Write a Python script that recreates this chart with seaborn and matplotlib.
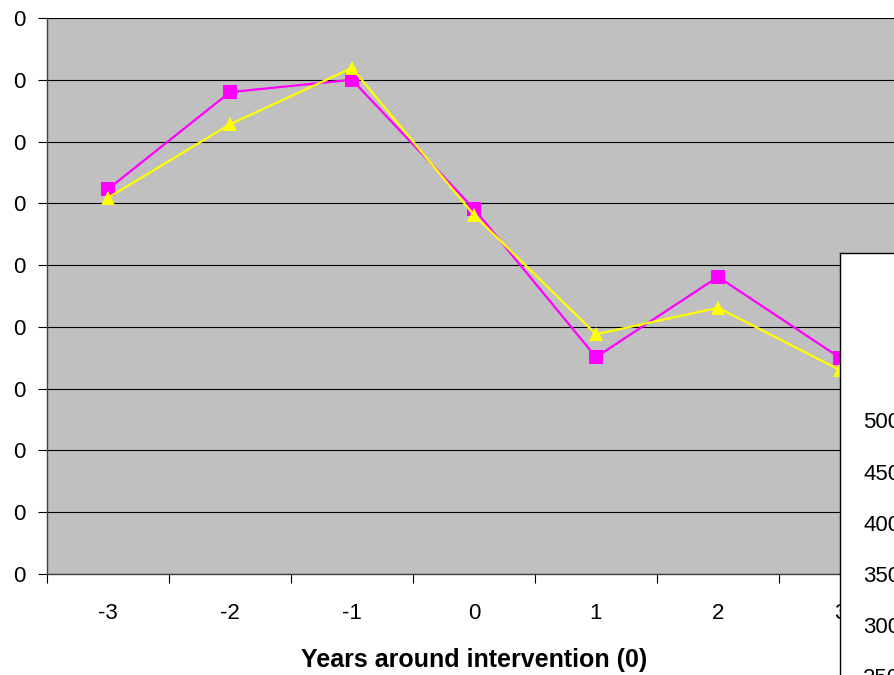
import matplotlib
matplotlib.use("Agg")
import matplotlib.pyplot as plt
import matplotlib.transforms as mtransforms
import seaborn as sns
import pandas as pd

years = [-3, -2, -1, 0, 1, 2, 3]
series_a = [6.23, 7.80, 8.00, 5.91, 3.51, 4.81, 3.50]   # magenta squares
series_b = [6.09, 7.28, 8.19, 5.81, 3.88, 4.31, 3.30]   # yellow triangles
y_ticks = list(range(0, 10))
y_tick_labels = ["0"] * 10
x_label = "Years around intervention (0)"
overlay_labels = ["500", "450", "400", "350", "300", "250"]
overlay_values = [500, 450, 400, 350, 300, 250]

df = pd.DataFrame({
    "year": years * 2,
    "value": series_a + series_b,
    "series": ["A"] * len(years) + ["B"] * len(years),
})

sns.set_style("white")
plt.rcParams["font.family"] = ["Liberation Sans", "DejaVu Sans"]
plt.rcParams["text.color"] = "black"
plt.rcParams["xtick.color"] = "black"
plt.rcParams["ytick.color"] = "black"
plt.rcParams["axes.labelcolor"] = "black"

fig = plt.figure(figsize=(8.94, 6.75), dpi=100)
W, H = 894, 675
ax = fig.add_axes([47 / W, (H - 574) / H, 854 / W, 556 / H])
ax.set_facecolor("#C0C0C0")

sns.lineplot(data=df, x="year", y="value", hue="series", style="series",
             markers=["s", "^"], dashes=False,
             palette={"A": "#FF00FF", "B": "#FFFF00"},
             markersize=9.5, markeredgewidth=0, linewidth=1.6,
             legend=False, ax=ax, zorder=3)

ax.set_xlim(-3.5, 3.5)
ax.set_ylim(0, 9)
ax.set_yticks(y_ticks)
ax.set_yticklabels(y_tick_labels)
for yv in y_ticks:
    ax.axhline(yv, color="#000000", lw=0.8, zorder=1)

# x: boundary ticks (major) and centered labels (minor)
ax.set_xticks([x - 0.5 for x in years] + [3.5])
ax.set_xticklabels([])
ax.set_xticks(years, minor=True)
ax.set_xticklabels([str(y) for y in years], minor=True)
ax.tick_params(axis="x", which="major", direction="out", length=6.5, width=0.8,
               color="#000000", bottom=True)
ax.tick_params(axis="x", which="minor", length=0, pad=21, labelsize=16,
               labelcolor="black")
ax.tick_params(axis="y", direction="out", length=6.5, width=0.8, pad=9,
               labelsize=16, color="#000000", labelcolor="black", left=True)

for s in ["top", "right"]:
    ax.spines[s].set_visible(False)
for s in ["left", "bottom"]:
    ax.spines[s].set_color("#404040")
    ax.spines[s].set_linewidth(1.0)

ax.set_xlabel(x_label, fontsize=18, fontweight="bold", labelpad=17, color="black")
ax.set_ylabel("")

# overlapping white panel of another chart at right
bottom_px = 690
ax2 = fig.add_axes([840 / W, (H - bottom_px) / H, 100 / W, (bottom_px - 253) / H])
ax2.set_facecolor("white")
ax2.set_xticks([])
ax2.set_yticks([])
for s in ax2.spines.values():
    s.set_color("#000000")
    s.set_linewidth(1.0)
# map values to pixel rows: 500 at y=423, 50 per 51.2 px
v_top = 500 + (423 - 253) / 51.2 * 50
v_bot = 500 - (bottom_px - 423) / 51.2 * 50
ax2.set_ylim(v_bot, v_top)
trans = mtransforms.blended_transform_factory(ax2.transAxes, ax2.transData)
for lab, v in zip(overlay_labels, overlay_values):
    ax2.text(23 / 100, v, lab, transform=trans, va="center", ha="left",
             fontsize=16, color="black")

fig.savefig("out.png", dpi=100)
